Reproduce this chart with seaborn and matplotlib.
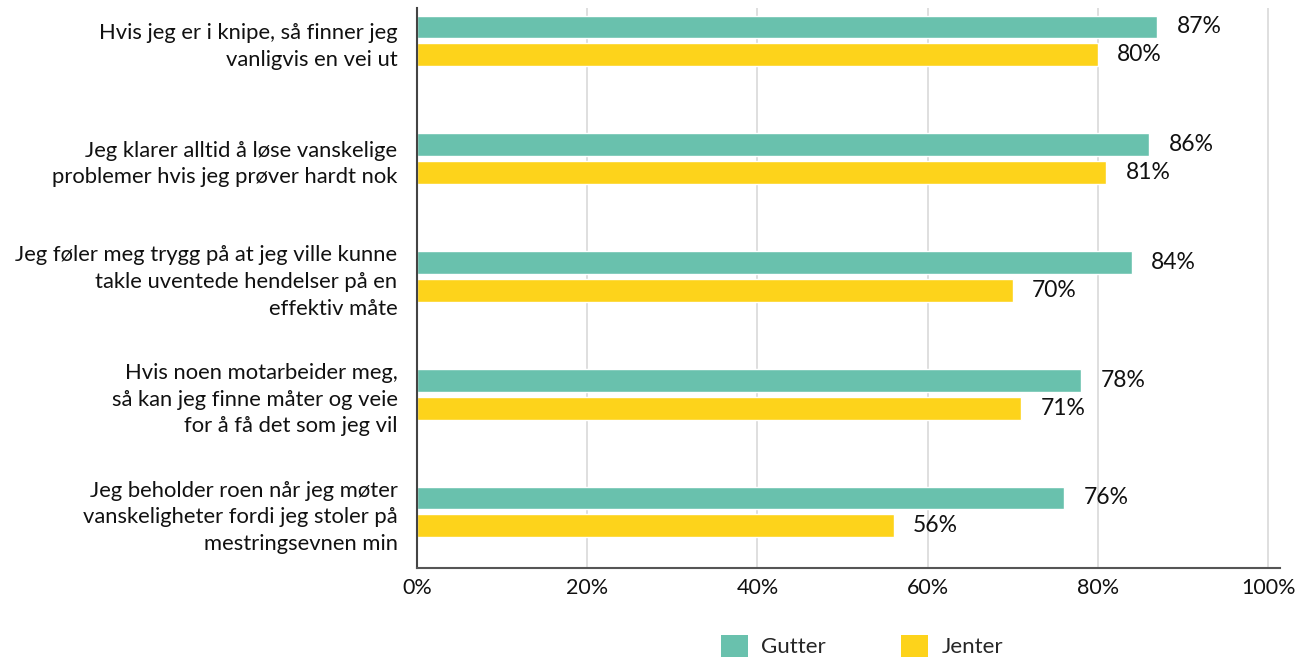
import matplotlib
matplotlib.use("Agg")
import matplotlib.pyplot as plt
import seaborn as sns
import pandas as pd
from matplotlib.patches import Patch

categories = [
    "Hvis jeg er i knipe, så finner jeg\nvanligvis en vei ut",
    "Jeg klarer alltid å løse vanskelige\nproblemer hvis jeg prøver hardt nok",
    "Jeg føler meg trygg på at jeg ville kunne\ntakle uventede hendelser på en\neffektiv måte",
    "Hvis noen motarbeider meg,\nså kan jeg finne måter og veie\nfor å få det som jeg vil",
    "Jeg beholder roen når jeg møter\nvanskeligheter fordi jeg stoler på\nmestringsevnen min",
]
series_names = ["Gutter", "Jenter"]
gutter = [87, 86, 84, 78, 76]
jenter = [80, 81, 70, 71, 56]
xticks = [0, 20, 40, 60, 80, 100]
xtick_labels = ["0%", "20%", "40%", "60%", "80%", "100%"]
colors = {"Gutter": "#69c1ad", "Jenter": "#fdd31b"}

df = pd.DataFrame({
    "category": categories * 2,
    "group": [series_names[0]] * len(categories) + [series_names[1]] * len(categories),
    "value": gutter + jenter,
})

sns.set_theme(style="white")
plt.rcParams["font.family"] = ["Lato", "DejaVu Sans"]

fig = plt.figure(figsize=(13.04, 6.59), dpi=100)
ax = fig.add_axes([417 / 1304, 1 - 568 / 659, (1280 - 417) / 1304, (568 - 8) / 659])

sns.barplot(data=df, y="category", x="value", hue="group", order=categories,
            hue_order=series_names, palette=colors, orient="h",
            width=0.475, gap=0.18, legend=False, ax=ax, saturation=1)

ax.set_xlim(0, 101.4)
ax.set_ylim(4.476, -0.28)
ax.set_xticks(xticks)
ax.set_xticklabels(xtick_labels, fontsize=15.5, color="#111111")
ax.tick_params(axis="x", length=0, pad=7)
ax.tick_params(axis="y", length=0, pad=14)
for lab in ax.get_yticklabels():
    lab.set_fontsize(15.8)
    lab.set_color("#111111")
    lab.set_multialignment("right")
    lab.set_linespacing(1.42)
ax.set_xlabel("")
ax.set_ylabel("")
ax.xaxis.grid(True, color="#d9d9d9", linewidth=1.2)
ax.set_axisbelow(True)
for s in ["top", "right"]:
    ax.spines[s].set_visible(False)
ax.spines["left"].set_color("#444444")
ax.spines["bottom"].set_color("#555555")
ax.spines["left"].set_linewidth(1.5)
ax.spines["bottom"].set_linewidth(1.5)

for cont in ax.containers:
    ax.bar_label(cont, labels=[f"{v:.0f}%" for v in cont.datavalues],
                 padding=14, fontsize=16.5, color="#111111")

handles = [Patch(facecolor=colors[n], edgecolor="none") for n in series_names]
fig.legend(handles, series_names, loc="center", bbox_to_anchor=(862 / 1304, 1 - 646 / 659),
           ncol=2, frameon=False, fontsize=16, handlelength=1.2, handleheight=1.2,
           columnspacing=3.4, handletextpad=0.6, borderaxespad=0)

fig.savefig("out.png", dpi=100)
